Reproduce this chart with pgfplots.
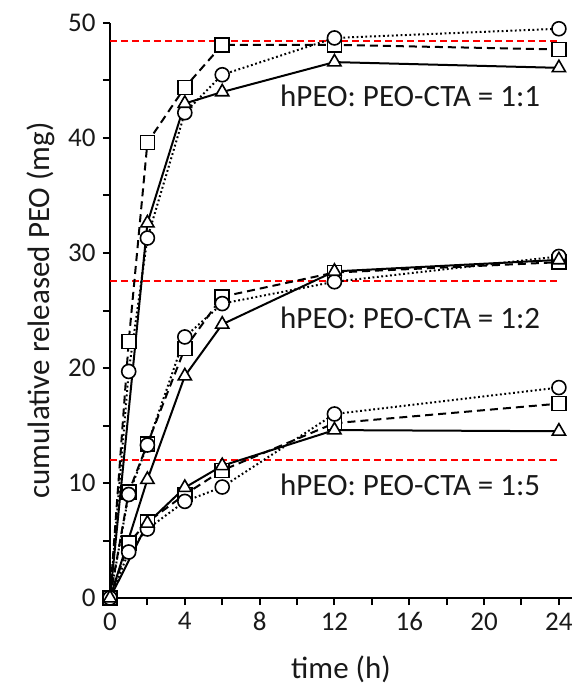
\documentclass[border=0pt]{standalone}
\usepackage{pgfplots}
\pgfplotsset{compat=1.18}
\usepackage{fontspec}
\setmainfont{Carlito}
\pgfplotsset{
  sq/.style={draw=black, line width=2pt, dash pattern=on 8pt off 5pt, mark=square*, mark options={solid, draw=black, fill=white, line width=1.6pt, mark size=7pt}},
  ci/.style={draw=black, line width=2pt, dash pattern=on 1.8pt off 2.6pt, mark=*, mark options={solid, draw=black, fill=white, line width=1.6pt, mark size=7pt}},
  tr/.style={draw=black, line width=2pt, solid, mark=triangle*, mark options={solid, draw=black, fill=white, line width=1.6pt, mark size=7.6pt}},
  rl/.style={draw=red, line width=2pt, dash pattern=on 7pt off 4pt, no marks},
}
\begin{document}
\begin{tikzpicture}
\useasboundingbox (0,0) rectangle (572pt,689pt);
\begin{axis}[
  at={(110pt,91pt)}, anchor=south west,
  scale only axis, width=462pt, height=575pt,
  xmin=0, xmax=24.7, ymin=0, ymax=50,
  clip=false,
  axis x line*=bottom, axis y line*=left,
  axis line style={-, line width=2pt, black},
  xtick={0,2,...,24}, xticklabels={0,,4,,8,,12,,16,,20,,24},
  ytick={0,5,...,50}, yticklabels={0,,10,,20,,30,,40,,50},
  tick align=outside, major tick length=7pt,
  tick style={line width=2pt, black},
  /pgf/number format/assume math mode=true,
  ticklabel style={font=\fontsize{27}{30}\selectfont, text=black!90},
  xticklabel style={yshift=-4pt},
  yticklabel style={xshift=-4pt},
  xlabel={time (h)}, ylabel={cumulative released PEO (mg)},
  label style={font=\fontsize{31}{34}\selectfont, text=black!90},
  xlabel style={yshift=-18pt},
  ylabel style={yshift=6pt},
]
% reference levels
\addplot[rl] coordinates {(0,48.4) (24,48.4)};
\addplot[rl] coordinates {(0,27.6) (24,27.6)};
\addplot[rl] coordinates {(0,12.0) (24,12.0)};
% 1:1
\addplot[sq] coordinates {(0,0) (1,22.3) (2,39.6) (4,44.4) (6,48.1) (12,48.1) (24,47.7)};
\addplot[ci] coordinates {(0,0) (1,19.7) (2,31.3) (4,42.2) (6,45.5) (12,48.7) (24,49.5)};
\addplot[tr] coordinates {(0,0) (2,32.6) (4,43.0) (6,44.0) (12,46.6) (24,46.1)};
% 1:2
\addplot[sq] coordinates {(0,0) (1,9.2) (2,13.4) (4,21.7) (6,26.2) (12,28.3) (24,29.2)};
\addplot[ci] coordinates {(0,0) (1,9.0) (2,13.3) (4,22.7) (6,25.6) (12,27.5) (24,29.7)};
\addplot[tr] coordinates {(0,0) (2,10.3) (4,19.3) (6,23.8) (12,28.4) (24,29.4)};
% 1:5
\addplot[sq] coordinates {(0,0) (1,4.8) (2,6.6) (4,9.0) (6,11.1) (12,15.2) (24,16.9)};
\addplot[ci] coordinates {(0,0) (1,4.0) (2,6.0) (4,8.4) (6,9.65) (12,16.0) (24,18.3)};
\addplot[tr] coordinates {(0,0) (2,6.5) (4,9.6) (6,11.5) (12,14.6) (24,14.5)};
% labels
\node[anchor=base west, font=\fontsize{31}{34}\selectfont, text=black!90, inner sep=0pt] at (axis cs:9.09,42.7) {hPEO: PEO-CTA = 1:1};
\node[anchor=base west, font=\fontsize{31}{34}\selectfont, text=black!90, inner sep=0pt] at (axis cs:9.09,23.4) {hPEO: PEO-CTA = 1:2};
\node[anchor=base west, font=\fontsize{31}{34}\selectfont, text=black!90, inner sep=0pt] at (axis cs:9.09,8.87) {hPEO: PEO-CTA = 1:5};
\end{axis}
\end{tikzpicture}
\end{document}
